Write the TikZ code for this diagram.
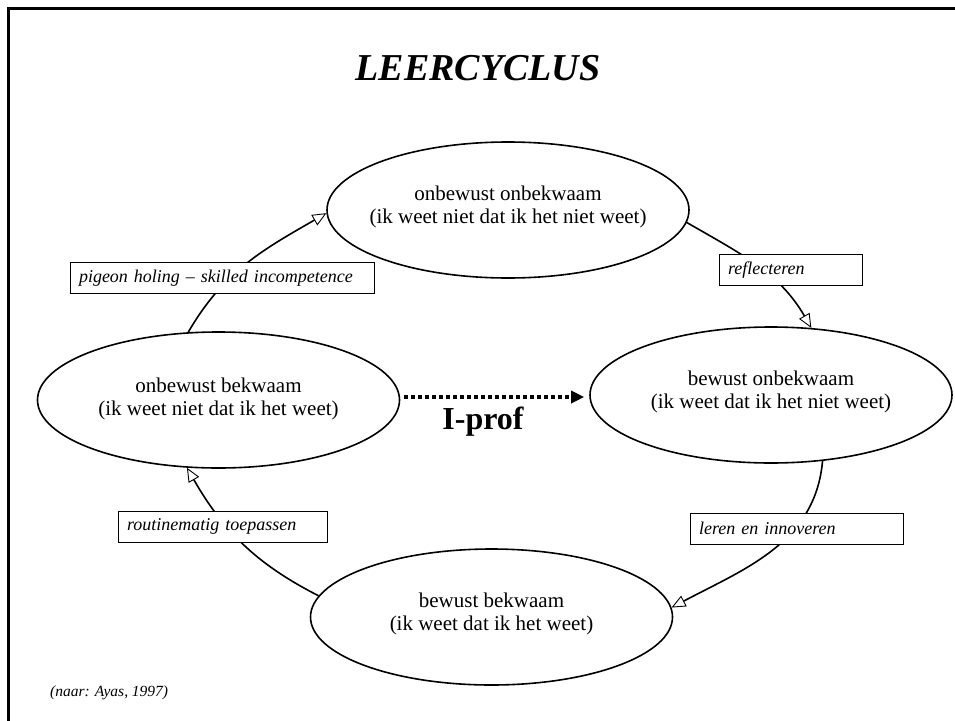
\documentclass[tikz,border=0pt]{standalone}
\usepackage{fontspec}
\setmainfont{Liberation Serif}
\usetikzlibrary{shapes.geometric,arrows.meta}

\begin{document}
\begin{tikzpicture}[x=1pt,y=-1pt,
  stage/.style={ellipse,draw,line width=1.6pt,minimum width=362pt,minimum height=136pt,
    inner sep=0pt},
  stagetext/.style={align=center,inner sep=0pt,yshift=3pt,font=\fontsize{21}{23.5}\selectfont},
  phase/.style={draw,line width=0.9pt,fill=white,minimum height=31pt,inner xsep=9pt,
    inner ysep=0pt,align=left,font=\fontsize{18}{20}\selectfont\itshape},
  cyc/.style={line width=1.6pt,
    -{Triangle[length=14pt,width=12pt,fill=white,line width=0.9pt]}},
  jump/.style={line width=3.5pt,dash pattern=on 3.5pt off 3.5pt,
    -{Triangle[length=13pt,width=12pt]}},
]
\useasboundingbox (0,0) rectangle (955,720);

% page frame
\draw[line width=3pt] (8,730) -- (8,8) -- (965,8);

% title
\node (title) at (478,68) {\fontsize{38}{40}\selectfont\bfseries\itshape LEERCYCLUS};

% the four stages
\node[stage] (T) at (508,210) {};
\node[stage] (R) at (771,395) {};
\node[stage] (B) at (491.5,617) {};
\node[stage] (L) at (218.5,400) {};
\node[stagetext] (Tt) at (T) {onbewust onbekwaam\\(ik weet niet dat ik het niet weet)};
\node[stagetext] (Rt) at (R) {bewust onbekwaam\\(ik weet dat ik het niet weet)};
\node[stagetext] (Bt) at (B) {bewust bekwaam\\(ik weet dat ik het weet)};
\node[stagetext,yshift=-2pt] (Lt) at (L) {onbewust bekwaam\\(ik weet niet dat ik het weet)};

% cycle connectors
\draw[cyc] (L.114) to[out=60,in=210] (T.181);
\draw[cyc] (T.-4) to[out=-30,in=120] (R.59);
\draw[cyc] (R.-52) to[out=-95,in=28] (B.3);
\draw[cyc] (B.173) to[out=153,in=-60] (L.-115);

% phase labels on the connectors
\node[phase,text width=286pt] (p1) at (222,278) {pigeon holing – skilled incompetence};
\node[phase,text width=125pt] (p2) at (790.5,270) {reflecteren};
\node[phase,text width=191pt] (p3) at (222.5,526.5) {routinematig toepassen};
\node[phase,text width=195pt] (p4) at (796.5,528.5) {leren en innoveren};

% I-prof shortcut
\draw[jump] ([shift={(4,-3)}]L.east) -- ([shift={(-5,2)}]R.west);
\node[font=\fontsize{32}{34}\selectfont\bfseries] (iprof) at (483,422) {I-prof};

% source
\node[anchor=west,inner sep=0pt,font=\fontsize{15.5}{17}\selectfont\itshape] (src) at (50,693) {(naar: Ayas, 1997)};
\end{tikzpicture}
\end{document}
